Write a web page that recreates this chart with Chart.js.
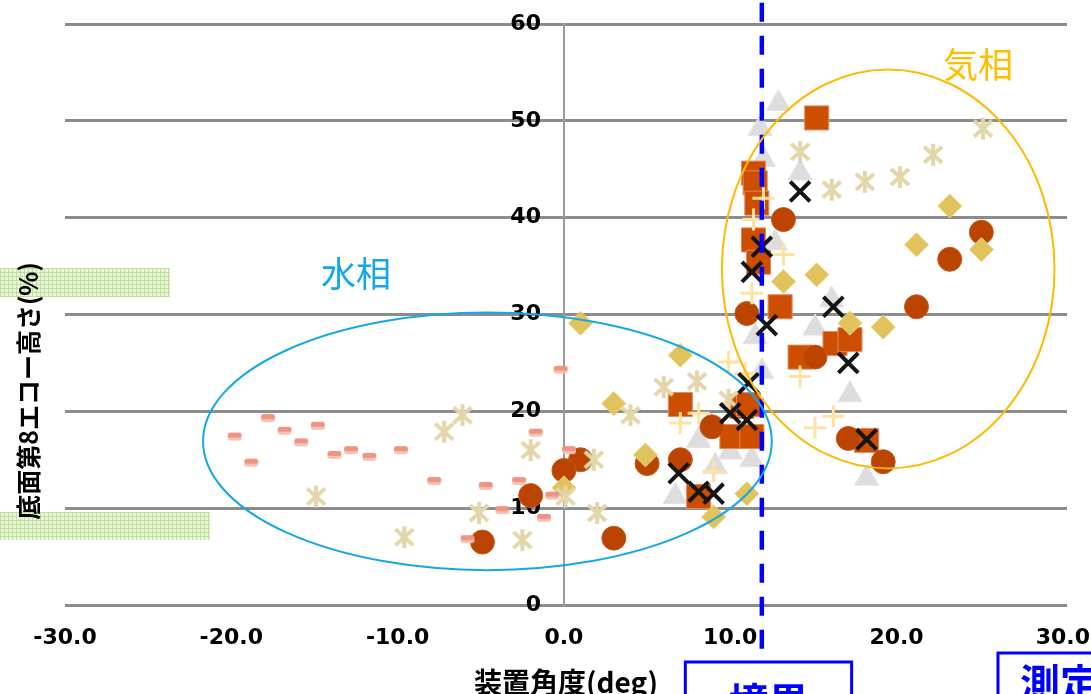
<!DOCTYPE html>
<html>
<head>
<meta charset="utf-8">
<script src="https://cdn.jsdelivr.net/npm/chart.js@4.4.0/dist/chart.umd.min.js"></script>
<style>
  html, body { margin: 0; padding: 0; background: #fff; }
</style>
</head>
<body>
<canvas id="chart" width="1091" height="694"></canvas>
<script>
// x: 装置角度(deg), y: 底面第8エコー高さ(%)
const xTicks = [-30, -20, -10, 0, 10, 20, 30];
const boundaryX = 11.9;              // 境界 (dashed line)
const boundarySpan = [62.2, -5.9];

const pinkX = [-19.8, -17.8, -18.8, -16.8, -15.8, -14.8, -13.8, -12.8, -11.7, -9.8, -7.8, -4.7, -3.7, -2.7, -1.7, -0.2, 0.3, -0.7, -1.2, -5.8];
const pinkY = [17.4, 19.3, 14.7, 18.0, 16.8, 18.5, 15.5, 16.0, 15.3, 16.0, 12.8, 12.3, 9.8, 12.8, 17.8, 24.3, 16.0, 11.3, 9.0, 6.8];

const starX = [-6.1, -7.2, -14.9, -5.1, -9.6, -2.5, -2.0, 0.1, 2.0, 1.8, 6.0, 8.0, 4.0, 9.9, 14.2, 16.1, 18.1, 20.2, 22.2, 25.2];
const starY = [19.6, 17.9, 11.2, 9.5, 7.0, 6.7, 16.0, 11.2, 9.5, 15.0, 22.5, 23.1, 19.6, 21.2, 46.8, 42.9, 43.7, 44.2, 46.5, 49.2];

const circleX = [25.1, 23.2, 21.2, 13.2, 11.0, 15.1, 17.1, 19.2, 8.9, 7.0, 5.0, 1.0, 0.0, -2.0, -4.9, 3.0];
const circleY = [38.5, 35.7, 30.8, 39.8, 30.1, 25.6, 17.2, 14.8, 18.4, 15.0, 14.6, 15.0, 13.9, 11.3, 6.5, 6.9];

const squareX = [15.2, 11.4, 11.5, 11.6, 11.4, 11.7, 13.0, 14.2, 16.3, 17.2, 18.2, 7.0, 10.7, 11.1, 10.1, 11.3, 8.1];
const squareY = [50.3, 44.6, 43.6, 41.5, 37.7, 35.4, 30.8, 25.6, 27.0, 27.4, 17.0, 20.7, 20.5, 20.7, 17.4, 17.4, 11.2];

const diamondX = [1.0, 7.0, 3.0, 4.9, 0.0, 9.0, 11.0, 23.2, 25.1, 21.2, 15.2, 13.2, 17.2, 19.2];
const diamondY = [29.1, 25.8, 20.8, 15.5, 12.1, 9.1, 11.5, 41.2, 36.7, 37.2, 34.1, 33.4, 29.1, 28.7];

const triX = [12.9, 11.8, 12.0, 14.2, 12.7, 11.5, 16.1, 15.1, 11.9, 17.2, 8.1, 10.0, 11.3, 9.1, 6.7, 18.2];
const triY = [51.8, 49.2, 46.0, 44.6, 37.4, 27.7, 31.5, 28.6, 24.1, 21.7, 17.0, 15.8, 15.0, 14.3, 11.2, 13.1];

const xMarkX = [14.2, 11.9, 11.3, 16.2, 12.2, 17.1, 11.1, 10.0, 11.0, 18.2, 8.1, 9.0, 6.9];
const xMarkY = [42.7, 37.0, 34.4, 30.8, 28.9, 25.0, 22.9, 19.8, 19.1, 17.1, 11.7, 11.5, 13.6];

const plusX = [12.0, 11.4, 13.2, 11.3, 9.9, 10.9, 8.1, 7.0, 9.0, 14.2, 16.2, 15.1];
const plusY = [42.0, 39.8, 36.2, 32.2, 25.1, 23.9, 19.8, 18.8, 13.8, 23.6, 19.5, 18.3];

function pts(xs, ys) {
  return xs.map((v, i) => ({ x: v, y: ys[i] }));
}

function asteriskImg(color) {
  const c = document.createElement('canvas');
  c.width = 26; c.height = 26;
  const g = c.getContext('2d');
  g.strokeStyle = color;
  g.lineWidth = 4;
  g.beginPath();
  g.moveTo(13, 2); g.lineTo(13, 24);
  g.moveTo(4, 5); g.lineTo(22, 21);
  g.moveTo(22, 5); g.lineTo(4, 21);
  g.stroke();
  return c;
}

function dashImg() {
  const c = document.createElement('canvas');
  c.width = 16; c.height = 10;
  const g = c.getContext('2d');
  g.fillStyle = '#f7c0b2';
  g.beginPath(); g.roundRect(1, 2, 14, 7, 3); g.fill();
  g.fillStyle = '#ee9484';
  g.beginPath(); g.roundRect(1, 1, 14, 5, 2.5); g.fill();
  return c;
}

function greenPattern(ctx) {
  const c = document.createElement('canvas');
  c.width = 4; c.height = 4;
  const g = c.getContext('2d');
  g.fillStyle = '#eaf6dc';
  g.fillRect(0, 0, 4, 4);
  g.fillStyle = '#bfe09a';
  g.fillRect(0, 0, 4, 1);
  g.fillRect(0, 0, 1, 4);
  return ctx.createPattern(c, 'repeat');
}

const cjk = '"Noto Sans CJK JP", "Noto Sans", sans-serif';
const numFont = '"DejaVu Sans", "Liberation Sans", sans-serif';

const notes = {
  id: 'notes',
  beforeDraw(chart) {
    const ctx = chart.ctx;
    ctx.save();
    ctx.fillStyle = greenPattern(ctx);
    ctx.fillRect(0, 268, 170, 29);
    ctx.fillRect(0, 512, 210, 28);
    ctx.restore();
  },
  afterDatasetsDraw(chart) {
    const { ctx, scales: { x, y } } = chart;
    const ellipse = (cx, cy, rx, ry, color) => {
      const px = x.getPixelForValue(cx), py = y.getPixelForValue(cy);
      const prx = x.getPixelForValue(cx + rx) - px;
      const pry = py - y.getPixelForValue(cy + ry);
      ctx.beginPath();
      ctx.ellipse(px, py, prx, pry, 0, 0, Math.PI * 2);
      ctx.strokeStyle = color;
      ctx.lineWidth = 2;
      ctx.stroke();
    };
    ctx.save();
    ellipse(-4.6, 16.9, 17.1, 13.3, '#14a8e6');
    ellipse(19.5, 34.7, 10.0, 20.6, '#ffb900');

    ctx.font = '35px ' + cjk;
    ctx.textBaseline = 'top';
    ctx.textAlign = 'left';
    ctx.fillStyle = '#14a8e6';
    ctx.fillText('水相', x.getPixelForValue(-14.6), y.getPixelForValue(36.0));
    ctx.fillStyle = '#ffbf00';
    ctx.fillText('気相', x.getPixelForValue(22.8), y.getPixelForValue(57.6));
    ctx.restore();
  },
  afterDraw(chart) {
    const { ctx, chartArea, scales: { x } } = chart;
    ctx.save();
    // y axis title
    ctx.translate(28, 391);
    ctx.rotate(-Math.PI / 2);
    ctx.font = 'bold 25px ' + cjk;
    ctx.fillStyle = '#000';
    ctx.textAlign = 'center';
    ctx.textBaseline = 'middle';
    ctx.fillText('底面第8エコー高さ(%)', 0, 0);
    ctx.restore();

    // boxes under the axis
    ctx.save();
    ctx.strokeStyle = '#0000ff';
    ctx.lineWidth = 3;
    ctx.fillStyle = '#0000ff';
    ctx.font = 'bold 40px ' + cjk;
    ctx.textBaseline = 'top';
    const b1l = x.getPixelForValue(7.3), b1r = x.getPixelForValue(17.3);
    const b1t = chartArea.bottom + 57;
    ctx.strokeRect(b1l, b1t, b1r - b1l, 60);
    ctx.textAlign = 'center';
    ctx.fillText('境界', (b1l + b1r) / 2, b1t + 20);
    const b2l = x.getPixelForValue(26.1);
    const b2t = chartArea.bottom + 48;
    ctx.strokeRect(b2l, b2t, 200, 60);
    ctx.textAlign = 'left';
    ctx.fillText('測定', b2l + 22, b2t + 10);
    ctx.restore();
  }
};

new Chart(document.getElementById('chart'), {
  type: 'scatter',
  data: {
    datasets: [
      {
        type: 'line',
        data: [{ x: boundaryX, y: boundarySpan[0] }, { x: boundaryX, y: boundarySpan[1] }],
        borderColor: '#0000ff', borderWidth: 4.5, borderDash: [19, 14],
        pointRadius: 0, clip: false, order: -1
      },
      { data: pts(xMarkX, xMarkY), pointStyle: 'crossRot', pointRadius: 14,
        pointBorderColor: '#151515', pointBorderWidth: 4, order: 0 },
      { data: pts(plusX, plusY), pointStyle: 'cross', pointRadius: 11,
        pointBorderColor: '#ffe2a0', pointBorderWidth: 3, order: 1 },
      { data: pts(pinkX, pinkY), pointStyle: dashImg(), pointRadius: 7, order: 2 },
      { data: pts(starX, starY), pointStyle: asteriskImg('#e3d6ab'), pointRadius: 11, order: 3 },
      { data: pts(diamondX, diamondY), pointStyle: 'rectRot', pointRadius: 12,
        pointBackgroundColor: '#e1c35c', pointBorderColor: '#e8d07a', pointBorderWidth: 1, order: 4 },
      { data: pts(circleX, circleY), pointStyle: 'circle', pointRadius: 12,
        pointBackgroundColor: '#bb4500', pointBorderColor: '#c45a1c', pointBorderWidth: 1, order: 5 },
      { data: pts(squareX, squareY), pointStyle: 'rect', pointRadius: 17,
        pointBackgroundColor: '#cd4e00', pointBorderColor: '#df8a60', pointBorderWidth: 1, order: 6 },
      { data: pts(triX, triY), pointStyle: 'triangle', pointRadius: 14,
        pointBackgroundColor: '#dddddd', pointBorderColor: '#e4e4e4', pointBorderWidth: 1, order: 7 }
    ]
  },
  options: {
    responsive: false,
    animation: false,
    events: [],
    layout: { padding: { left: 65, right: 24, top: 24, bottom: 0 } },
    plugins: { legend: { display: false }, tooltip: { enabled: false } },
    scales: {
      x: {
        type: 'linear', min: -30, max: 30.25, position: 'bottom',
        afterBuildTicks: s => { s.ticks = xTicks.map(v => ({ value: v })); },
        afterFit: s => { s.height = 89; s.paddingLeft = 0; s.paddingRight = 0; },
        grid: { display: false, drawTicks: false },
        border: { display: false },
        ticks: {
          padding: 20, maxRotation: 0, autoSkip: false, color: '#000',
          font: { family: numFont, size: 22, weight: 'bold' },
          callback: v => Number(v).toFixed(1)
        },
        title: {
          display: true, text: '装置角度(deg)', color: '#000',
          font: { family: cjk, size: 28, weight: 'bold', lineHeight: 0.8 },
          padding: 0
        }
      },
      y: {
        type: 'linear', min: 0, max: 60, position: { x: 0 },
        afterFit: s => { s.paddingLeft = 0; s.paddingRight = 0; s.paddingTop = 0; s.paddingBottom = 0; },
        ticks: {
          stepSize: 10, color: '#000',
          font: { family: numFont, size: 22, weight: 'bold' },
          callback: v => v + '   '
        },
        grid: { color: '#8c8c8c', lineWidth: 3, drawTicks: false },
        border: { display: true, color: '#9a9a9a', width: 2 }
      }
    }
  },
  plugins: [notes]
});
</script>
</body>
</html>
